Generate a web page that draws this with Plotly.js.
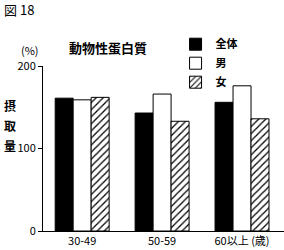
<!DOCTYPE html>
<html><head><meta charset="utf-8">
<script src="https://cdn.plot.ly/plotly-3.0.1.min.js"></script>
<style>body{margin:0;background:#fff}#c{width:284px;height:250px}</style>
</head><body><div id="c"></div>
<script>
const categories = ["30-49", "50-59", "60以上 (歳)"];
const seriesNames = ["全体", "男", "女"];
const totalVals = [161, 143, 156];
const maleVals = [159, 166, 176];
const femaleVals = [162, 133, 136];
const yTicks = [0, 100, 200];

const F = '"Noto Sans CJK JP", "Noto Sans", sans-serif';
const line = {color: '#000', width: 1};
const traces = [
  {type: 'bar', name: seriesNames[0], x: categories, y: totalVals,
   marker: {color: '#000', line: line}},
  {type: 'bar', name: seriesNames[1], x: categories, y: maleVals,
   marker: {color: '#fff', line: line}},
  {type: 'bar', name: seriesNames[2], x: categories, y: femaleVals,
   marker: {color: '#fff', line: line,
     pattern: {shape: '/', size: 5, solidity: 0.25, fgcolor: '#000', bgcolor: '#fff'}}}
];
const yTitle = ['摂', '取', '量'];
const yTitlePos = [0.76, 0.64, 0.52];
const ann = [
  {text: '図 18', xref: 'paper', yref: 'paper', x: -0.17, y: 1.345, xanchor: 'left', yanchor: 'middle',
   showarrow: false, font: {family: F, size: 13}},
  {text: '動物性蛋白質', xref: 'paper', yref: 'paper', x: 0.1, y: 1.11, xanchor: 'left', yanchor: 'middle',
   showarrow: false, font: {family: F, size: 13, weight: 'bold'}},
  {text: '(%)', xref: 'paper', yref: 'paper', x: -0.055, y: 1.095, xanchor: 'center', yanchor: 'middle',
   showarrow: false, font: {family: F, size: 11}}
];
yTitle.forEach((t, i) => ann.push({text: t, xref: 'paper', yref: 'paper', x: -0.137, y: yTitlePos[i],
  xanchor: 'center', yanchor: 'middle', showarrow: false, font: {family: F, size: 12, weight: 'bold'}}));

const layout = {
  width: 284, height: 250,
  margin: {l: 43, r: 0, t: 66, b: 19},
  paper_bgcolor: '#fff', plot_bgcolor: '#fff',
  barmode: 'group', bargap: 0.325, bargroupgap: 0,
  font: {family: F, color: '#000', size: 11},
  showlegend: true,
  legend: {x: 0.55, y: 1.22, xanchor: 'left', yanchor: 'top',
    font: {family: F, size: 11, weight: 'bold'}, tracegroupgap: 0,
    bgcolor: 'rgba(0,0,0,0)', itemwidth: 30},
  xaxis: {type: 'category', range: [-0.49, 2.525], showline: true, linecolor: '#000',
    linewidth: 1, ticks: '', tickfont: {family: F, size: 11}, fixedrange: true},
  yaxis: {range: [0, 200], tickvals: yTicks, showline: true, linecolor: '#000', linewidth: 1,
    ticks: 'outside', ticklen: 4, tickcolor: '#000', showgrid: false, zeroline: false,
    tickfont: {family: F, size: 11}},
  annotations: ann
};
Plotly.newPlot('c', traces, layout, {displayModeBar: false, staticPlot: true});
</script></body></html>
